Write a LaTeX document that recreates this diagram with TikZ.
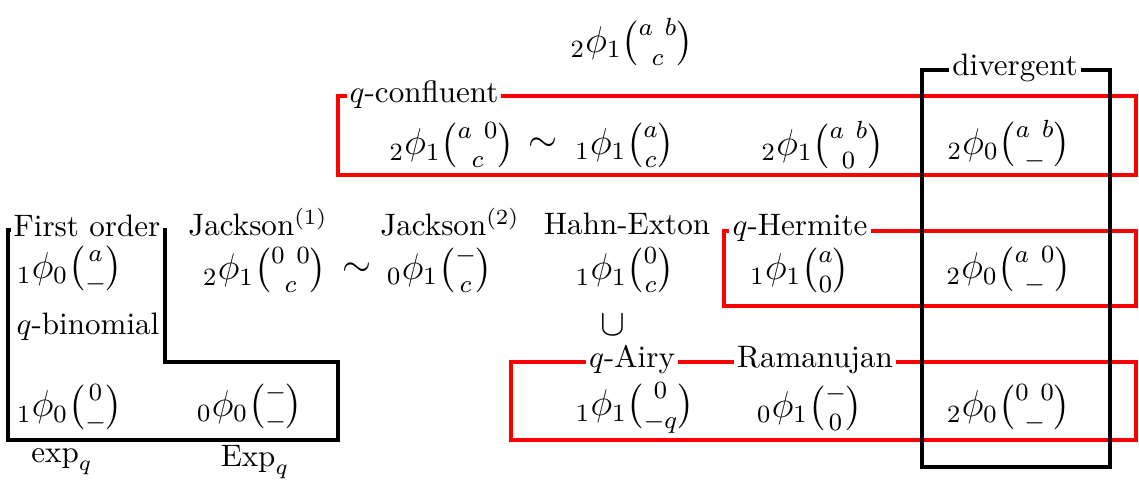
\documentclass[tikz,border=0pt]{standalone}
\usepackage{amsmath}
\usepackage{amssymb}
\usetikzlibrary{positioning}
\tikzset{
    redframe/.style={draw=red, line width=1.1pt},
    blkframe/.style={draw=black, line width=1.1pt},
    framelbl/.style={fill=white, inner sep=1pt},
    fml/.style={inner sep=1pt, font=\large},
}
\newcommand{\qphi}[4]{{}_{#1}\phi_{#2}\binom{#3}{#4}}

\begin{document}
\begin{tikzpicture}[x=0.322pt, y=-0.322pt]
        \useasboundingbox (0,0) rectangle (1139,483);
        % frames
        \draw[redframe] (338,96) rectangle (1136,175);
        \draw[redframe] (724,231) rectangle (1136,306);
        \draw[redframe] (511,362) rectangle (1136,440);
        \draw[blkframe] (922,70) rectangle (1110,467);
        \draw[blkframe] (8,230) -- (8,440) -- (338,440) -- (338,362)
            -- (165,362) -- (165,230) -- cycle;
        % frame labels
        \node[framelbl] (divlbl) at (1015,68) {divergent};
        \node[framelbl] (conflbl) at (424,95) {$q$-confluent};
        \node[framelbl] (herlbl) at (800,228) {$q$-Hermite};
        \node[framelbl] (airylbl) at (632,360) {$q$-Airy};
        \node[framelbl] (ramlbl) at (815,360) {Ramanujan};
        \node[framelbl] (folbl) at (87,226) {First order};
        % top
        \node[fml] (top) at (632,42) {$\qphi{2}{1}{a\ b}{c}$};
        % q-confluent row
        \node[fml] (cf1) at (452,145) {$\qphi{2}{1}{a\ 0}{c}$};
        \node[fml] (sim1) at (543,145) {$\sim$};
        \node[fml] (cf2) at (625,145) {$\qphi{1}{1}{a}{c}$};
        \node[fml] (cf3) at (823,145) {$\qphi{2}{1}{a\ b}{0}$};
        \node[fml] (dv1) at (1009,145) {$\qphi{2}{0}{a\ b}{-}$};
        % middle row
        \node[fml] (fo1) at (70,270) {$\qphi{1}{0}{a}{-}$};
        \node (jklbl1) at (258,222) {Jackson$^{(1)}$};
        \node[fml] (jk1) at (265,270) {$\qphi{2}{1}{0\ 0}{c}$};
        \node[fml] (sim2) at (357,270) {$\sim$};
        \node (jklbl2) at (450,222) {Jackson$^{(2)}$};
        \node[fml] (jk2) at (440,270) {$\qphi{0}{1}{-}{c}$};
        \node (helbl) at (627,224) {Hahn-Exton};
        \node[fml] (he) at (625,270) {$\qphi{1}{1}{0}{c}$};
        \node[fml] (qh) at (800,270) {$\qphi{1}{1}{a}{0}$};
        \node[fml] (dv2) at (1009,270) {$\qphi{2}{0}{a\ 0}{-}$};
        \node (qbin) at (88,327) {$q$-binomial};
        \node[fml] (cup) at (613,325) {$\cup$};
        % bottom row
        \node[fml] (fo2) at (70,408) {$\qphi{1}{0}{0}{-}$};
        \node[fml] (fo3) at (250,408) {$\qphi{0}{0}{-}{-}$};
        \node[fml] (ai) at (635,408) {$\qphi{1}{1}{0}{-q}$};
        \node[fml] (rm) at (810,408) {$\qphi{0}{1}{-}{0}$};
        \node[fml] (dv3) at (1009,408) {$\qphi{2}{0}{0\ 0}{-}$};
        \node (explbl) at (62,462) {$\exp_q$};
        \node (Explbl) at (255,462) {$\mathrm{Exp}_q$};
    \end{tikzpicture}
\end{document}
